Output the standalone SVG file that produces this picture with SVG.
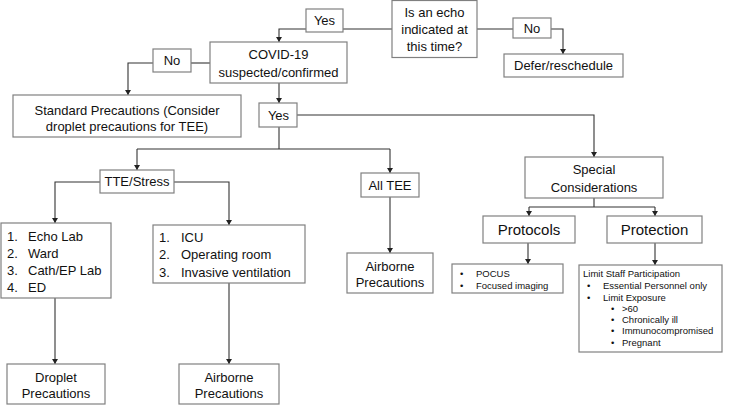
<svg xmlns="http://www.w3.org/2000/svg" width="732" height="405" viewBox="0 0 732 405">
<defs>
<marker id="ah" markerWidth="6" markerHeight="6" refX="5" refY="3" orient="auto" markerUnits="userSpaceOnUse">
<path d="M0,0 L5,3 L0,6 Z" fill="#222"/>
</marker>
<style>
.box{fill:#fff;stroke:#808080;stroke-width:1.2}
.ln{fill:none;stroke:#333;stroke-width:1.1}
.ar{fill:none;stroke:#333;stroke-width:1.1;marker-end:url(#ah)}
text{font-family:"Liberation Sans",Arial,sans-serif;font-size:13px;fill:#111}
.c{text-anchor:middle}
.b{font-size:15px}
.s{font-size:9.5px}
</style>
</defs>
<rect width="732" height="405" fill="#fff"/>
<g id="connectors">
<path class="ln" d="M392,29 H343"/>
<path class="ar" d="M306,29 H279 V42"/>
<path class="ln" d="M477,29 H513"/>
<path class="ar" d="M551,29 H563 V54"/>
<path class="ln" d="M210,63 H191"/>
<path class="ar" d="M153,63 H128 V95"/>
<path class="ar" d="M279,83 V103"/>
<path class="ar" d="M297,115 H594 V157"/>
<path class="ln" d="M279,127 V149"/>
<path class="ln" d="M137,149 H390"/>
<path class="ar" d="M137,149 V170"/>
<path class="ar" d="M390,149 V173"/>
<path class="ar" d="M100,182 H55 V223"/>
<path class="ar" d="M174,182 H229 V225"/>
<path class="ar" d="M55,298 V364"/>
<path class="ar" d="M229,283 V364"/>
<path class="ar" d="M390,197 V253"/>
<path class="ln" d="M594,198 V207"/>
<path class="ln" d="M529,207 H655"/>
<path class="ar" d="M529,207 V216"/>
<path class="ar" d="M655,207 V216"/>
<path class="ar" d="M528,243 V264"/>
<path class="ar" d="M655,243 V265"/>
</g>
<g id="echo">
<rect class="box" x="392" y="0.5" width="85" height="57"/>
<text class="c" x="434.5" y="17">Is an echo</text>
<text class="c" x="434.5" y="34">indicated at</text>
<text class="c" x="434.5" y="51">this time?</text>
</g>
<g id="yes1">
<rect class="box" x="306" y="9" width="37" height="23"/>
<text class="c" x="324.5" y="25">Yes</text>
</g>
<g id="no1">
<rect class="box" x="513" y="18" width="38" height="20"/>
<text class="c" x="532" y="32.5">No</text>
</g>
<g id="defer">
<rect class="box" x="504" y="54" width="119" height="23"/>
<text class="c" x="563.5" y="70">Defer/reschedule</text>
</g>
<g id="covid">
<rect class="box" x="210" y="42" width="137" height="41"/>
<text class="c" x="278.5" y="58.5">COVID-19</text>
<text class="c" x="278.5" y="76.5">suspected/confirmed</text>
</g>
<g id="no2">
<rect class="box" x="153" y="49" width="38" height="23"/>
<text class="c" x="172" y="65">No</text>
</g>
<g id="standard">
<rect class="box" x="13" y="95" width="228" height="42"/>
<text class="c" x="127" y="114.5">Standard Precautions (Consider</text>
<text class="c" x="127" y="130.5">droplet precautions for TEE)</text>
</g>
<g id="yes2">
<rect class="box" x="259" y="103" width="38" height="24"/>
<text class="c" x="278.5" y="119.5">Yes</text>
</g>
<g id="tte">
<rect class="box" x="100" y="170" width="74" height="23"/>
<text class="c" x="137" y="186">TTE/Stress</text>
</g>
<g id="alltee">
<rect class="box" x="361" y="173" width="58" height="24"/>
<text class="c" x="390" y="189.5">All TEE</text>
</g>
<g id="special">
<rect class="box" x="525" y="157" width="138" height="41"/>
<text class="c" x="594" y="173.5">Special</text>
<text class="c" x="594" y="191.5">Considerations</text>
</g>
<g id="list1">
<rect class="box" x="1" y="223" width="110" height="75"/>
<text x="7" y="240.5">1.</text><text x="28" y="240.5">Echo Lab</text>
<text x="7" y="257.5">2.</text><text x="28" y="257.5">Ward</text>
<text x="7" y="274.5">3.</text><text x="28" y="274.5">Cath/EP Lab</text>
<text x="7" y="291.5">4.</text><text x="28" y="291.5">ED</text>
</g>
<g id="list2">
<rect class="box" x="153" y="225" width="152" height="58"/>
<text x="159" y="241.5">1.</text><text x="181" y="241.5">ICU</text>
<text x="159" y="259">2.</text><text x="181" y="259">Operating room</text>
<text x="159" y="276.5">3.</text><text x="181" y="276.5">Invasive ventilation</text>
</g>
<g id="airborne-mid">
<rect class="box" x="347" y="253" width="86" height="40"/>
<text class="c" x="390" y="270.5">Airborne</text>
<text class="c" x="390" y="286.5">Precautions</text>
</g>
<g id="droplet">
<rect class="box" x="7" y="364" width="98" height="40"/>
<text class="c" x="56" y="381.5">Droplet</text>
<text class="c" x="56" y="397.5">Precautions</text>
</g>
<g id="airborne-left">
<rect class="box" x="179" y="364" width="100" height="40"/>
<text class="c" x="229" y="381.5">Airborne</text>
<text class="c" x="229" y="397.5">Precautions</text>
</g>
<g id="protocols">
<rect class="box" x="483" y="216" width="92" height="27"/>
<text class="c b" x="529" y="234.5">Protocols</text>
</g>
<g id="protection">
<rect class="box" x="607" y="216" width="95" height="27"/>
<text class="c b" x="654.5" y="234.5">Protection</text>
</g>
<g id="protocols-list">
<rect class="box" x="452" y="264" width="111" height="29"/>
<text class="s" x="460" y="276.5">•</text><text class="s" x="476" y="276.5">POCUS</text>
<text class="s" x="460" y="288.5">•</text><text class="s" x="476" y="288.5">Focused imaging</text>
</g>
<g id="protection-list">
<rect class="box" x="579" y="265" width="143" height="87"/>
<text class="s" x="583" y="277">Limit Staff Participation</text>
<text class="s" x="587" y="289">•</text><text class="s" x="603" y="289">Essential Personnel only</text>
<text class="s" x="587" y="300.5">•</text><text class="s" x="603" y="300.5">Limit Exposure</text>
<text class="s" x="611" y="311.5">•</text><text class="s" x="622" y="311.5">&gt;60</text>
<text class="s" x="611" y="322.5">•</text><text class="s" x="622" y="322.5">Chronically ill</text>
<text class="s" x="611" y="334">•</text><text class="s" x="622" y="334">Immunocompromised</text>
<text class="s" x="611" y="345.5">•</text><text class="s" x="622" y="345.5">Pregnant</text>
</g>
</svg>
